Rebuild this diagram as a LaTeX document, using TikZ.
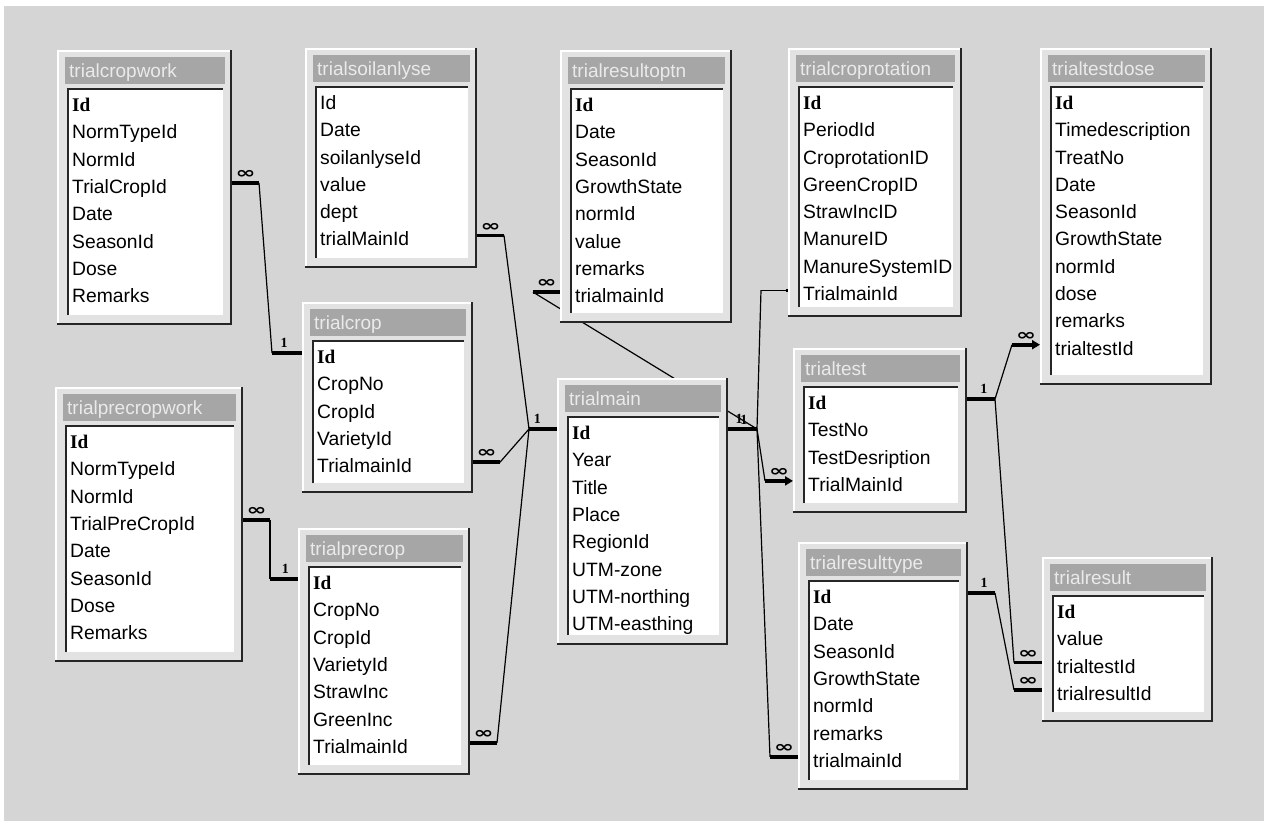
\documentclass[tikz,border=0pt]{standalone}
\usepackage{fontspec}
\setmainfont{Liberation Sans}
\newfontfamily\keyfont{Liberation Serif}
\newfontfamily\symfont{DejaVu Sans}
\usepackage{graphicx}
\usetikzlibrary{positioning,arrows.meta}

\definecolor{canvasgray}{RGB}{213,213,213}
\definecolor{framegray}{RGB}{226,226,226}
\definecolor{titlegray}{RGB}{166,166,166}
\definecolor{titletext}{RGB}{234,234,234}

\pgfdeclarelayer{canvas}
\pgfdeclarelayer{links}
\pgfsetlayers{canvas,links,main}

\newcommand{\pk}[1]{{\keyfont\bfseries #1}}
\newcommand{\many}{\scalebox{1.5}[1]{\symfont\bfseries ∞}}

% name, x1, y1, x2, y2, fields
\newcommand{\dbtable}[6]{%
  \node[tableframe, minimum width=#4pt-#2pt, minimum height=#5pt-#3pt] (#1) at (#2,#3) {};
  \draw[framelight] (#2+1,#5-2) -- (#2+1,#3+1) -- (#4-2,#3+1);
  \draw[frameshadow] (#2,#5-1) -- (#4-1,#5-1) -- (#4-1,#3);
  \fill[titlegray] (#2+8,#3+7) rectangle (#4-7,#3+34);
  \node[tabletitle] (#1-title) at (#2+12,#3+20.5) {#1};
  \fill[white] (#2+10,#3+38) rectangle (#4-9,#5-10);
  \draw[listedge] (#2+11,#5-10) -- (#2+11,#3+39) -- (#4-9,#3+39);
  \foreach \f [count=\i] in {#6}
    \node[field] (#1-\i) at (#2+15,#3+51+27.3*\i-27.3) {\f};
}

\begin{document}
\begin{tikzpicture}[x=1pt, y=-1pt]
  \tikzset{
    tableframe/.style={anchor=north west, inner sep=0pt, outer sep=0pt, fill=framegray},
    framelight/.style={white, line width=2pt},
    frameshadow/.style={black!85, line width=2pt},
    listedge/.style={black!85, line width=2pt},
    tabletitle/.style={anchor=west, inner sep=0pt, text=titletext, text height=13.6pt, text depth=0pt,
      font=\fontsize{19}{22}\selectfont},
    field/.style={anchor=west, inner sep=0pt, text height=21pt, text depth=0pt,
      font=\fontsize{19.3}{22}\selectfont},
    link/.style={line width=1.2pt},
    stub/.style={line width=3.6pt},
    intoarrow/.style={{Triangle[length=8pt,width=9pt]}-},
    many/.style={above=2.5pt, inner sep=0pt, font=\fontsize{16}{16}\selectfont},
    one/.style={above=4pt, pos=0.6, inner sep=0pt, font=\keyfont\bfseries\fontsize{14}{14}\selectfont},
  }

  \useasboundingbox (0,0) rectangle (1264,821);
  \begin{pgfonlayer}{canvas}
    \fill[white] (0,0) rectangle (1264,821);
    \fill[canvasgray] (4,6) rectangle (1264,821);
  \end{pgfonlayer}

  \dbtable{trialcropwork}{57}{50}{232}{325}{\pk{Id},NormTypeId,NormId,TrialCropId,Date,SeasonId,Dose,Remarks}
  \dbtable{trialsoilanlyse}{305}{48}{477}{268}{Id,Date,soilanlyseId,value,dept,trialMainId}
  \dbtable{trialresultoptn}{560}{50}{732}{323}{\pk{Id},Date,SeasonId,GrowthState,normId,value,remarks,trialmainId}
  \dbtable{trialcroprotation}{788}{48}{962}{317}{\pk{Id},PeriodId,CroprotationID,GreenCropID,StrawIncID,ManureID,ManureSystemID,TrialmainId}
  \dbtable{trialtestdose}{1040}{48}{1212}{385}{\pk{Id},Timedescription,TreatNo,Date,SeasonId,GrowthState,normId,dose,remarks,trialtestId}
  \dbtable{trialprecropwork}{55}{387}{243}{662}{\pk{Id},NormTypeId,NormId,TrialPreCropId,Date,SeasonId,Dose,Remarks}
  \dbtable{trialcrop}{302}{302}{473}{493}{\pk{Id},CropNo,CropId,VarietyId,TrialmainId}
  \dbtable{trialprecrop}{298}{528}{470}{775}{\pk{Id},CropNo,CropId,VarietyId,StrawInc,GreenInc,TrialmainId}
  \dbtable{trialmain}{557}{378}{728}{645}{\pk{Id},Year,Title,Place,RegionId,UTM-zone,UTM-northing,UTM-easthing}
  \dbtable{trialtest}{793}{348}{967}{513}{\pk{Id},TestNo,TestDesription,TrialMainId}
  \dbtable{trialresulttype}{798}{542}{968}{790}{\pk{Id},Date,SeasonId,GrowthState,normId,remarks,trialmainId}
  \dbtable{trialresult}{1042}{557}{1213}{722}{\pk{Id},value,trialtestId,trialresultId}

  \begin{pgfonlayer}{links}
    % trialmain
    \draw[stub] (trialmain.west |- trialmain-1) -- node[one, pos=0.7]{1} ++(-28,0) coordinate (tm-w);
    \draw[stub] (trialmain.east |- trialmain-1) -- node[one, pos=0.38]{1} node[one, pos=0.55, yshift=-1pt]{1} ++(29,0) coordinate (tm-e);

    \draw[stub] (trialsoilanlyse.east |- trialsoilanlyse-6) -- node[many]{\many} ++(27,0) coordinate (tsa);
    \draw[link] (tsa) -- (tm-w);
    \draw[stub] (trialcrop.east |- trialcrop-5) -- node[many]{\many} ++(27,0) coordinate (tc5);
    \draw[link] (tc5) -- (tm-w);
    \draw[stub] (trialprecrop.east |- trialprecrop-7) -- node[many]{\many} ++(27,0) coordinate (tpc7);
    \draw[link] (tpc7) -- (tm-w);

    \draw[stub] (trialresultoptn.west |- trialresultoptn-8) -- node[many]{\many} ++(-27,0) coordinate (tro);
    \draw[link] (tro) -- (tm-e);
    \draw[link, {Square[length=2.5pt,width=3pt]}-] (trialcroprotation.west |- trialcroprotation-8) -- ++(-27,0) coordinate (tcr);
    \draw[link] (tcr) -- (tm-e);
    \draw[stub, intoarrow] (trialtest.west |- trialtest-4) -- node[many]{\many} ++(-28,0) coordinate (tt4);
    \draw[link] (tm-e) -- (tt4);
    \draw[stub] (trialresulttype.west |- trialresulttype-7) -- node[many]{\many} ++(-28,0) coordinate (trt7);
    \draw[link] (tm-e) -- (trt7);

    % trialtest, trialresulttype
    \draw[stub] (trialtest.east |- trialtest-1) -- node[one]{1} ++(28,0) coordinate (tt1);
    \draw[stub, intoarrow] (trialtestdose.west |- trialtestdose-10) -- node[many]{\many} ++(-28,0) coordinate (ttd);
    \draw[link] (tt1) -- (ttd);
    \draw[stub] (trialresult.west |- trialresult-3) -- node[many]{\many} ++(-28,0) coordinate (tr3);
    \draw[link] (tt1) -- (tr3);
    \draw[stub] (trialresulttype.east |- trialresulttype-1) -- node[one]{1} ++(27,0) coordinate (trt1);
    \draw[stub] (trialresult.west |- trialresult-4) -- node[many]{\many} ++(-28,0) coordinate (tr4);
    \draw[link] (trt1) -- (tr4);

    % work tables
    \draw[stub] (trialcropwork.east |- trialcropwork-4) -- node[many]{\many} ++(27,0) coordinate (cw4);
    \draw[stub] (trialcrop.west |- trialcrop-1) -- node[one]{1} ++(-30,0) coordinate (tc1);
    \draw[link] (cw4) -- (tc1);
    \draw[stub] (trialprecropwork.east |- trialprecropwork-4) -- node[many]{\many} ++(27,0) coordinate (pw4);
    \draw[stub] (trialprecrop.west |- trialprecrop-1) -- node[one, pos=0.45]{1} ++(-28,0) coordinate (tpc1);
    \draw[link] (pw4) -- (tpc1);
  \end{pgfonlayer}
\end{tikzpicture}
\end{document}
